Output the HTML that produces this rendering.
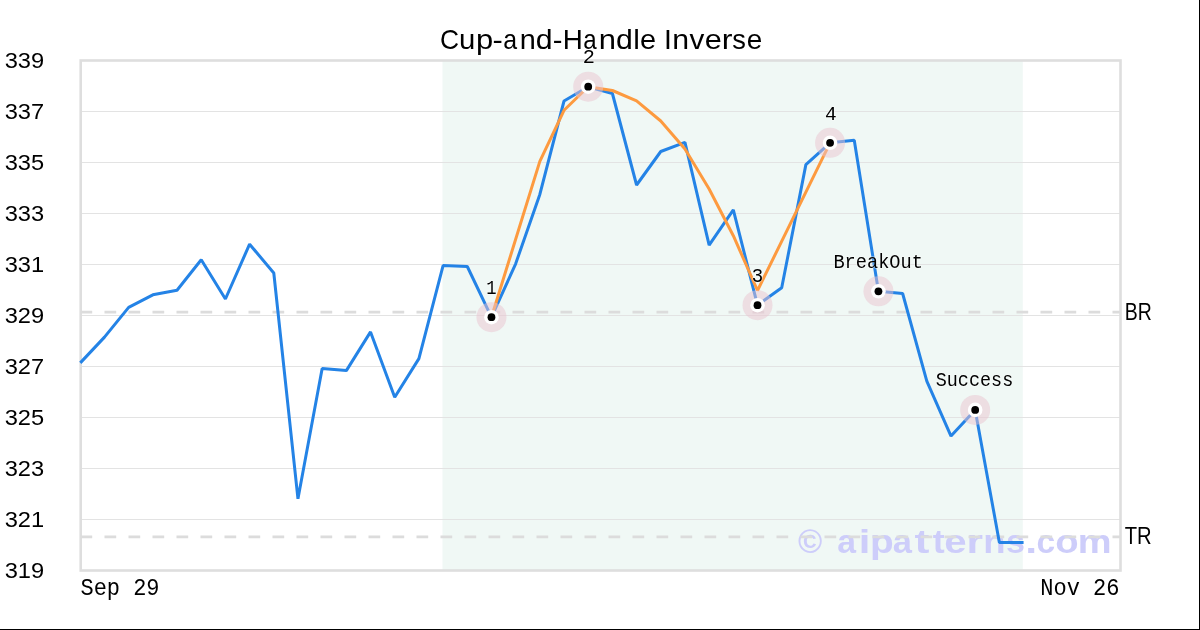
<!DOCTYPE html><html><head><meta charset="utf-8"><style>html,body{margin:0;padding:0;background:#fff;width:1200px;height:630px;overflow:hidden}svg{display:block;will-change:transform}</style></head><body>
<svg width="1200" height="630" viewBox="0 0 1200 630">
<rect x="0" y="0" width="1200" height="630" fill="#fff"/>
<rect x="442.5" y="60" width="580.3" height="510" fill="#f0f8f5"/>
<line x1="80" y1="111.5" x2="1120" y2="111.5" stroke="#e3e3e3" stroke-width="1.2"/>
<line x1="80" y1="162.5" x2="1120" y2="162.5" stroke="#e3e3e3" stroke-width="1.2"/>
<line x1="80" y1="213.5" x2="1120" y2="213.5" stroke="#e3e3e3" stroke-width="1.2"/>
<line x1="80" y1="264.5" x2="1120" y2="264.5" stroke="#e3e3e3" stroke-width="1.2"/>
<line x1="80" y1="315.5" x2="1120" y2="315.5" stroke="#e3e3e3" stroke-width="1.2"/>
<line x1="80" y1="366.5" x2="1120" y2="366.5" stroke="#e3e3e3" stroke-width="1.2"/>
<line x1="80" y1="417.5" x2="1120" y2="417.5" stroke="#e3e3e3" stroke-width="1.2"/>
<line x1="80" y1="468.5" x2="1120" y2="468.5" stroke="#e3e3e3" stroke-width="1.2"/>
<line x1="80" y1="519.5" x2="1120" y2="519.5" stroke="#e3e3e3" stroke-width="1.2"/>
<rect x="80.7" y="60.5" width="1039.8" height="510" fill="none" stroke="#dedede" stroke-width="2.6"/>
<g font-family="Liberation Sans, sans-serif" font-weight="bold" font-size="33.5" fill="#cdcdfa">
<text x="797.93" y="552.8" textLength="24.26" lengthAdjust="spacingAndGlyphs">©</text>
<text x="837.13" y="552.8" textLength="18.75" lengthAdjust="spacingAndGlyphs">a</text>
<text x="858.79" y="552.8" textLength="11.57" lengthAdjust="spacingAndGlyphs">i</text>
<text x="870.14" y="552.8" textLength="23.75" lengthAdjust="spacingAndGlyphs">p</text>
<text x="892.72" y="552.8" textLength="19.19" lengthAdjust="spacingAndGlyphs">a</text>
<text x="914.62" y="552.8" textLength="14.90" lengthAdjust="spacingAndGlyphs">t</text>
<text x="932.80" y="552.8" textLength="11.88" lengthAdjust="spacingAndGlyphs">t</text>
<text x="944.29" y="552.8" textLength="22.38" lengthAdjust="spacingAndGlyphs">e</text>
<text x="966.49" y="552.8" textLength="16.50" lengthAdjust="spacingAndGlyphs">r</text>
<text x="983.23" y="552.8" textLength="22.31" lengthAdjust="spacingAndGlyphs">n</text>
<text x="1006.13" y="552.8" textLength="18.93" lengthAdjust="spacingAndGlyphs">s</text>
<text x="1025.20" y="552.8" textLength="11.89" lengthAdjust="spacingAndGlyphs">.</text>
<text x="1036.57" y="552.8" textLength="18.70" lengthAdjust="spacingAndGlyphs">c</text>
<text x="1055.18" y="552.8" textLength="23.41" lengthAdjust="spacingAndGlyphs">o</text>
<text x="1077.70" y="552.8" textLength="33.84" lengthAdjust="spacingAndGlyphs">m</text>
</g>
<line x1="80.5" y1="312.1" x2="1120" y2="312.1" stroke="#dcdcdc" stroke-width="2.6" stroke-dasharray="11.7 12.3"/>
<line x1="80.5" y1="536.9" x2="1120" y2="536.9" stroke="#dcdcdc" stroke-width="2.6" stroke-dasharray="11.7 12.3"/>
<polyline points="80.30,362.90 104.49,337.10 128.67,307.40 152.86,294.80 177.04,290.20 201.23,259.80 225.42,299.00 249.60,244.20 273.79,273.00 297.97,498.80 322.16,368.40 346.35,370.60 370.53,331.90 394.72,397.30 418.90,358.60 443.09,265.60 467.28,266.50 491.46,317.20 515.65,263.80 539.83,194.40 564.02,101.00 588.21,86.70 612.39,93.50 636.58,185.00 660.77,151.50 684.95,142.30 709.14,245.20 733.32,209.90 757.51,305.20 781.70,287.80 805.88,164.60 830.07,142.80 854.25,140.30 878.44,291.30 902.63,293.50 926.81,381.10 951.00,436.10 975.18,409.90 999.37,542.40 1023.56,542.40" fill="none" stroke="#2483e6" stroke-width="3" stroke-linejoin="bevel" stroke-linecap="butt"/>
<polyline points="491.46,317.20 539.83,161.40 564.02,110.30 588.21,86.70 612.39,90.50 636.58,100.90 660.77,121.00 684.95,149.00 709.14,189.00 733.32,235.70 757.51,290.50 830.07,142.80" fill="none" stroke="#fd9a3f" stroke-width="3" stroke-linejoin="bevel" stroke-linecap="butt"/>
<circle cx="491.46" cy="317.2" r="15" fill="rgb(233,195,208)" fill-opacity="0.5"/>
<circle cx="491.46" cy="317.2" r="7.3" fill="#fff"/>
<circle cx="491.46" cy="317.2" r="3.9" fill="#000"/>
<circle cx="588.21" cy="86.7" r="15" fill="rgb(233,195,208)" fill-opacity="0.5"/>
<circle cx="588.21" cy="86.7" r="7.3" fill="#fff"/>
<circle cx="588.21" cy="86.7" r="3.9" fill="#000"/>
<circle cx="757.51" cy="305.2" r="15" fill="rgb(233,195,208)" fill-opacity="0.5"/>
<circle cx="757.51" cy="305.2" r="7.3" fill="#fff"/>
<circle cx="757.51" cy="305.2" r="3.9" fill="#000"/>
<circle cx="830.07" cy="142.8" r="15" fill="rgb(233,195,208)" fill-opacity="0.5"/>
<circle cx="830.07" cy="142.8" r="7.3" fill="#fff"/>
<circle cx="830.07" cy="142.8" r="3.9" fill="#000"/>
<circle cx="878.44" cy="291.3" r="15" fill="rgb(233,195,208)" fill-opacity="0.5"/>
<circle cx="878.44" cy="291.3" r="7.3" fill="#fff"/>
<circle cx="878.44" cy="291.3" r="3.9" fill="#000"/>
<circle cx="975.18" cy="409.9" r="15" fill="rgb(233,195,208)" fill-opacity="0.5"/>
<circle cx="975.18" cy="409.9" r="7.3" fill="#fff"/>
<circle cx="975.18" cy="409.9" r="3.9" fill="#000"/>
<text x="486.35" y="294.00" font-family="Liberation Mono, monospace" font-size="20.40" textLength="10.30" lengthAdjust="spacingAndGlyphs" fill="none" stroke="#fff" stroke-opacity="0.45" stroke-width="1.6">1</text>
<text x="486.35" y="294.00" font-family="Liberation Mono, monospace" font-size="20.40" textLength="10.30" lengthAdjust="spacingAndGlyphs" fill="#000">1</text>
<text x="582.66" y="63.00" font-family="Liberation Mono, monospace" font-size="20.40" textLength="12.17" lengthAdjust="spacingAndGlyphs" fill="none" stroke="#fff" stroke-opacity="0.45" stroke-width="1.6">2</text>
<text x="582.66" y="63.00" font-family="Liberation Mono, monospace" font-size="20.40" textLength="12.17" lengthAdjust="spacingAndGlyphs" fill="#000">2</text>
<text x="751.82" y="282.27" font-family="Liberation Mono, monospace" font-size="20.40" textLength="11.45" lengthAdjust="spacingAndGlyphs" fill="none" stroke="#fff" stroke-opacity="0.45" stroke-width="1.6">3</text>
<text x="751.82" y="282.27" font-family="Liberation Mono, monospace" font-size="20.40" textLength="11.45" lengthAdjust="spacingAndGlyphs" fill="#000">3</text>
<text x="824.95" y="119.82" font-family="Liberation Mono, monospace" font-size="20.40" textLength="11.69" lengthAdjust="spacingAndGlyphs" fill="none" stroke="#fff" stroke-opacity="0.45" stroke-width="1.6">4</text>
<text x="824.95" y="119.82" font-family="Liberation Mono, monospace" font-size="20.40" textLength="11.69" lengthAdjust="spacingAndGlyphs" fill="#000">4</text>
<text x="833.44" y="268.00" font-family="Liberation Mono, monospace" font-size="20.20" textLength="89.47" lengthAdjust="spacingAndGlyphs" fill="none" stroke="#fff" stroke-opacity="0.45" stroke-width="1.6">BreakOut</text>
<text x="833.44" y="268.00" font-family="Liberation Mono, monospace" font-size="20.20" textLength="89.47" lengthAdjust="spacingAndGlyphs" fill="#000">BreakOut</text>
<text x="935.74" y="386.00" font-family="Liberation Mono, monospace" font-size="20.20" textLength="77.48" lengthAdjust="spacingAndGlyphs" fill="none" stroke="#fff" stroke-opacity="0.45" stroke-width="1.6">Success</text>
<text x="935.74" y="386.00" font-family="Liberation Mono, monospace" font-size="20.20" textLength="77.48" lengthAdjust="spacingAndGlyphs" fill="#000">Success</text>
<text x="4.67" y="68.19" font-family="Liberation Sans, sans-serif" font-size="22.60" textLength="39.47" lengthAdjust="spacingAndGlyphs" fill="#000">339</text>
<text x="4.67" y="119.19" font-family="Liberation Sans, sans-serif" font-size="22.60" textLength="39.47" lengthAdjust="spacingAndGlyphs" fill="#000">337</text>
<text x="4.67" y="170.19" font-family="Liberation Sans, sans-serif" font-size="22.60" textLength="39.47" lengthAdjust="spacingAndGlyphs" fill="#000">335</text>
<text x="4.67" y="221.19" font-family="Liberation Sans, sans-serif" font-size="22.60" textLength="39.47" lengthAdjust="spacingAndGlyphs" fill="#000">333</text>
<text x="4.67" y="272.19" font-family="Liberation Sans, sans-serif" font-size="22.60" textLength="39.47" lengthAdjust="spacingAndGlyphs" fill="#000">331</text>
<text x="4.67" y="323.19" font-family="Liberation Sans, sans-serif" font-size="22.60" textLength="39.47" lengthAdjust="spacingAndGlyphs" fill="#000">329</text>
<text x="4.67" y="374.19" font-family="Liberation Sans, sans-serif" font-size="22.60" textLength="39.47" lengthAdjust="spacingAndGlyphs" fill="#000">327</text>
<text x="4.67" y="425.19" font-family="Liberation Sans, sans-serif" font-size="22.60" textLength="39.47" lengthAdjust="spacingAndGlyphs" fill="#000">325</text>
<text x="4.67" y="476.19" font-family="Liberation Sans, sans-serif" font-size="22.60" textLength="39.47" lengthAdjust="spacingAndGlyphs" fill="#000">323</text>
<text x="4.67" y="527.19" font-family="Liberation Sans, sans-serif" font-size="22.60" textLength="39.47" lengthAdjust="spacingAndGlyphs" fill="#000">321</text>
<text x="4.67" y="578.19" font-family="Liberation Sans, sans-serif" font-size="22.60" textLength="39.47" lengthAdjust="spacingAndGlyphs" fill="#000">319</text>
<text x="80.46" y="595.00" font-family="Liberation Mono, monospace" font-size="24.20" textLength="79.06" lengthAdjust="spacingAndGlyphs" fill="#000">Sep 29</text>
<text x="1040.21" y="595.00" font-family="Liberation Mono, monospace" font-size="24.20" textLength="79.32" lengthAdjust="spacingAndGlyphs" fill="#000">Nov 26</text>
<text x="1124.85" y="320.00" font-family="Liberation Sans, sans-serif" font-size="23.10" textLength="27.06" lengthAdjust="spacingAndGlyphs" fill="#000">BR</text>
<text x="1124.77" y="544.01" font-family="Liberation Sans, sans-serif" font-size="23.10" textLength="26.96" lengthAdjust="spacingAndGlyphs" fill="#000">TR</text>
<g font-family="Liberation Sans, sans-serif" font-weight="normal" font-size="27.6" fill="#000">
<text x="439.98" y="48.8" textLength="19.04" lengthAdjust="spacingAndGlyphs">C</text>
<text x="459.11" y="48.8" textLength="16.31" lengthAdjust="spacingAndGlyphs">u</text>
<text x="475.95" y="48.8" textLength="17.19" lengthAdjust="spacingAndGlyphs">p</text>
<text x="492.44" y="48.8" textLength="10.29" lengthAdjust="spacingAndGlyphs">-</text>
<text x="503.20" y="48.8" textLength="13.86" lengthAdjust="spacingAndGlyphs">a</text>
<text x="519.79" y="48.8" textLength="16.06" lengthAdjust="spacingAndGlyphs">n</text>
<text x="535.81" y="48.8" textLength="16.83" lengthAdjust="spacingAndGlyphs">d</text>
<text x="552.80" y="48.8" textLength="9.71" lengthAdjust="spacingAndGlyphs">-</text>
<text x="562.80" y="48.8" textLength="20.09" lengthAdjust="spacingAndGlyphs">H</text>
<text x="583.29" y="48.8" textLength="13.42" lengthAdjust="spacingAndGlyphs">a</text>
<text x="598.84" y="48.8" textLength="17.23" lengthAdjust="spacingAndGlyphs">n</text>
<text x="616.03" y="48.8" textLength="16.82" lengthAdjust="spacingAndGlyphs">d</text>
<text x="633.32" y="48.8" textLength="6.63" lengthAdjust="spacingAndGlyphs">l</text>
<text x="640.07" y="48.8" textLength="16.08" lengthAdjust="spacingAndGlyphs">e</text>
<text x="663.95" y="48.8" textLength="7.86" lengthAdjust="spacingAndGlyphs">I</text>
<text x="672.15" y="48.8" textLength="16.84" lengthAdjust="spacingAndGlyphs">n</text>
<text x="689.53" y="48.8" textLength="14.82" lengthAdjust="spacingAndGlyphs">v</text>
<text x="704.75" y="48.8" textLength="17.04" lengthAdjust="spacingAndGlyphs">e</text>
<text x="721.77" y="48.8" textLength="10.72" lengthAdjust="spacingAndGlyphs">r</text>
<text x="732.23" y="48.8" textLength="13.64" lengthAdjust="spacingAndGlyphs">s</text>
<text x="746.85" y="48.8" textLength="15.51" lengthAdjust="spacingAndGlyphs">e</text>
</g>
<rect x="1199" y="0" width="1" height="630" fill="#000"/>
<rect x="0" y="629" width="1200" height="1" fill="#000"/>
</svg></body></html>
